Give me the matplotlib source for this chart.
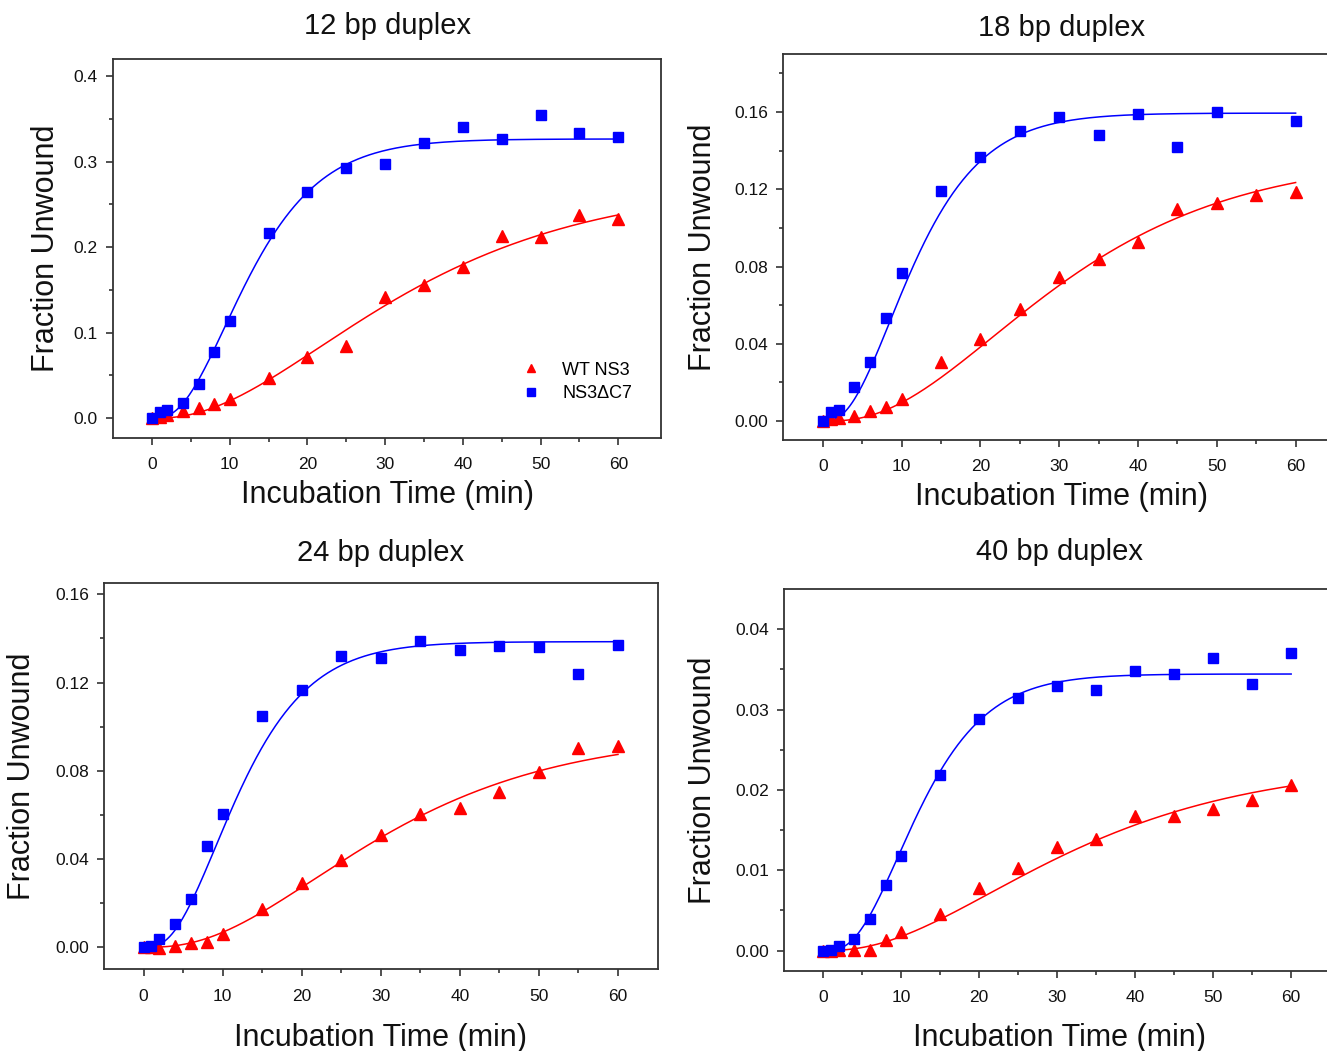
import math
import numpy as np
import matplotlib
matplotlib.use("Agg")
import matplotlib.pyplot as plt
from matplotlib.ticker import FixedLocator

plt.rcParams['font.family'] = ['Liberation Sans', 'DejaVu Sans']

# incubation times (min)
time_all = [0, 1, 2, 4, 6, 8, 10, 15, 20, 25, 30, 35, 40, 45, 50, 55, 60]
time_no55 = [0, 1, 2, 4, 6, 8, 10, 15, 20, 25, 30, 35, 40, 45, 50, 60]

titles = ['12 bp duplex', '18 bp duplex', '24 bp duplex', '40 bp duplex']
series_names = ['WT NS3', 'NS3\u0394C7']

# fraction unwound
wt_12 = [0, 0.002, 0.004, 0.009, 0.012, 0.017, 0.023, 0.047, 0.072, 0.085, 0.142,
         0.156, 0.177, 0.213, 0.212, 0.238, 0.233]
dc7_12 = [0, 0.007, 0.010, 0.018, 0.040, 0.078, 0.114, 0.216, 0.265, 0.292, 0.297,
          0.322, 0.341, 0.327, 0.354, 0.334, 0.329]

wt_18 = [0, 0.0009, 0.0017, 0.0028, 0.0052, 0.0074, 0.0112, 0.0307, 0.0423, 0.0578,
         0.0747, 0.0839, 0.0927, 0.110, 0.1127, 0.1168, 0.1187]
dc7_18 = [0, 0.0048, 0.0057, 0.0178, 0.0307, 0.0532, 0.0768, 0.119, 0.1365, 0.150,
          0.1574, 0.148, 0.159, 0.142, 0.160, 0.1555]

wt_24 = [0, 0.0003, -0.0005, 0.0006, 0.0021, 0.0026, 0.006, 0.0174, 0.029, 0.0395,
         0.0509, 0.0602, 0.0632, 0.0703, 0.0794, 0.0904, 0.0913]
dc7_24 = [0, 0.0006, 0.0039, 0.0106, 0.022, 0.046, 0.0602, 0.105, 0.1165, 0.132,
          0.131, 0.1387, 0.1348, 0.1366, 0.1362, 0.124, 0.1372]

wt_40 = [0, 0, 0.0001, 0.0001, 0.0001, 0.0013, 0.0023, 0.0046, 0.0078, 0.0103,
         0.0129, 0.0139, 0.0168, 0.0168, 0.0176, 0.0188, 0.0206]
dc7_40 = [0, 0.0001, 0.0006, 0.0014, 0.0039, 0.0081, 0.0118, 0.0219, 0.0288, 0.0314,
          0.0329, 0.0324, 0.0348, 0.0345, 0.0364, 0.0332, 0.0370]

# the published fit lines, sampled off the figure at these times
fit_time = [0, 4, 8, 10, 15, 20, 25, 30, 40, 50, 60]
fit_wt_12 = [0, 0.0058, 0.0148, 0.021, 0.046, 0.0713, 0.1006, 0.132, 0.182, 0.2175, 0.235]
fit_dc7_12 = [0, 0.0207, 0.077, 0.118, 0.210, 0.262, 0.2955, 0.314, 0.324, 0.326, 0.327]
fit_wt_18 = [0, 0.0025, 0.0068, 0.010, 0.0212, 0.0376, 0.0558, 0.071, 0.0954, 0.1127, 0.1234]
fit_dc7_18 = [0, 0.0152, 0.0454, 0.065, 0.109, 0.1343, 0.1498, 0.156, 0.158, 0.1585, 0.1585]
fit_wt_24 = [0, 0.0015, 0.004, 0.0056, 0.0161, 0.0275, 0.0388, 0.050, 0.0675, 0.0795, 0.0878]
fit_dc7_24 = [0, 0.0093, 0.0373, 0.052, 0.0886, 0.1158, 0.130, 0.135, 0.1374, 0.1375, 0.1375]
fit_wt_40 = [0, 0.0005, 0.0012, 0.002, 0.0038, 0.0063, 0.0088, 0.0115, 0.0158, 0.0187, 0.0204]
fit_dc7_40 = [0, 0.0021, 0.0083, 0.0125, 0.0222, 0.0287, 0.032, 0.0337, 0.0342, 0.0343, 0.0343]

y_major = [[0, 0.1, 0.2, 0.3, 0.4],
           [0, 0.04, 0.08, 0.12, 0.16],
           [0, 0.04, 0.08, 0.12, 0.16],
           [0, 0.01, 0.02, 0.03, 0.04]]
y_labels = [['0.0', '0.1', '0.2', '0.3', '0.4'],
            ['0.00', '0.04', '0.08', '0.12', '0.16'],
            ['0.00', '0.04', '0.08', '0.12', '0.16'],
            ['0.00', '0.01', '0.02', '0.03', '0.04']]
y_minor = [[0.05, 0.15, 0.25, 0.35],
           [0.02, 0.06, 0.10, 0.14, 0.18],
           [0.02, 0.06, 0.10, 0.14],
           [0.005, 0.015, 0.025, 0.035]]
x_major = [0, 10, 20, 30, 40, 50, 60]
x_minor = [5, 15, 25, 35, 45, 55]


def step_model(t, shape, rate):
    # n-step unwinding model: regularized lower incomplete gamma P(shape, rate*t)
    x = np.outer(np.atleast_1d(rate), np.asarray(t, dtype=float))
    term = np.full_like(x, 1.0 / shape)
    total = term.copy()
    for j in range(1, 300):
        term = term * x / (shape + j)
        total += term
    safe = np.where(x > 0, x, 1.0)
    p = np.exp(shape * np.log(safe) - safe - math.lgamma(shape)) * total
    return np.where(x > 0, p, 0.0)


def fit_steps(t, y):
    y = np.asarray(y, dtype=float)
    rates = np.arange(0.01, 0.8, 0.001)
    best = None
    for shape in np.arange(1.0, 8.01, 0.05):
        f = step_model(t, shape, rates)
        amp = f @ y / np.sum(f * f, axis=1)
        err = np.sum((y[None, :] - amp[:, None] * f) ** 2, axis=1)
        i = np.argmin(err)
        if best is None or err[i] < best[0]:
            best = (err[i], amp[i], shape, rates[i])
    return best[1:]


panels = [
    (time_all, wt_12, fit_wt_12, time_all, dc7_12, fit_dc7_12),
    (time_all, wt_18, fit_wt_18, time_no55, dc7_18, fit_dc7_18),
    (time_all, wt_24, fit_wt_24, time_all, dc7_24, fit_dc7_24),
    (time_all, wt_40, fit_wt_40, time_all, dc7_40, fit_dc7_40),
]

# layout (figure fractions) and limits
positions = [[0.0852, 0.5833, 0.4130, 0.3606],
             [0.5904, 0.5813, 0.4186, 0.3673],
             [0.0784, 0.0777, 0.4171, 0.3673],
             [0.5910, 0.0765, 0.4143, 0.3629]]
y_limits = [(-0.023, 0.42), (-0.0098, 0.19), (-0.01, 0.165), (-0.0025, 0.045)]
x_limits = [(-5, 65.5), (-5, 65.5), (-5, 65), (-5, 65.5)]
title_y = [1.087, 1.068, 1.079, 1.098]
xlabel_y = [-0.150, -0.148, -0.178, -0.177]
ylabel_x = [-0.122, -0.145, -0.148, -0.1476]

fig = plt.figure(figsize=(13.27, 10.51), dpi=100)
t_fine = np.linspace(0, 60, 400)

for i, (t_wt, y_wt, f_wt, t_dc, y_dc, f_dc) in enumerate(panels):
    ax = fig.add_axes(positions[i])

    for f, color in [(f_wt, '#ff0000'), (f_dc, '#0000ff')]:
        amp, shape, rate = fit_steps(fit_time, f)
        ax.plot(t_fine, amp * step_model(t_fine, shape, rate)[0], color=color, lw=1.1, zorder=2)
    h_wt, = ax.plot(t_wt, y_wt, ls='none', marker='^', ms=8, color='#ff0000', mec='#ff0000', zorder=3)
    h_dc, = ax.plot(t_dc, y_dc, ls='none', marker='s', ms=7, color='#0000ff', mec='#0000ff', zorder=4)

    ax.set_xlim(*x_limits[i])
    ax.set_ylim(*y_limits[i])
    ax.set_xticks(x_major)
    ax.xaxis.set_minor_locator(FixedLocator(x_minor))
    ax.set_yticks(y_major[i])
    ax.set_yticklabels(y_labels[i])
    ax.yaxis.set_minor_locator(FixedLocator(y_minor[i]))
    ax.tick_params(which='both', direction='out', color='#333333', width=1.2,
                   top=False, right=False, labelsize=12.5, labelcolor='#111111')
    ax.tick_params(axis='x', which='major', length=5, pad=9)
    ax.tick_params(axis='y', which='major', length=5, pad=6)
    ax.tick_params(which='minor', length=3)
    for sp in ax.spines.values():
        sp.set_color('#333333')
        sp.set_linewidth(1.3)

    ax.set_title(titles[i], fontsize=21, y=title_y[i], pad=0, va='center', color='#111111')
    ax.set_xlabel('Incubation Time (min)', fontsize=22, va='center', color='#111111')
    ax.xaxis.set_label_coords(0.5, xlabel_y[i])
    ax.set_ylabel('Fraction Unwound', fontsize=22, va='center', color='#111111')
    ax.yaxis.set_label_coords(ylabel_x[i], 0.5)

    if i == 0:
        ax.legend([h_wt, h_dc], series_names, loc='lower right', bbox_to_anchor=(0.947, 0.095),
                  frameon=False, fontsize=13, markerscale=0.75, handlelength=1.0,
                  handletextpad=1.2, labelspacing=0.35, borderpad=0, borderaxespad=0)

fig.savefig('out.png', dpi=100)
